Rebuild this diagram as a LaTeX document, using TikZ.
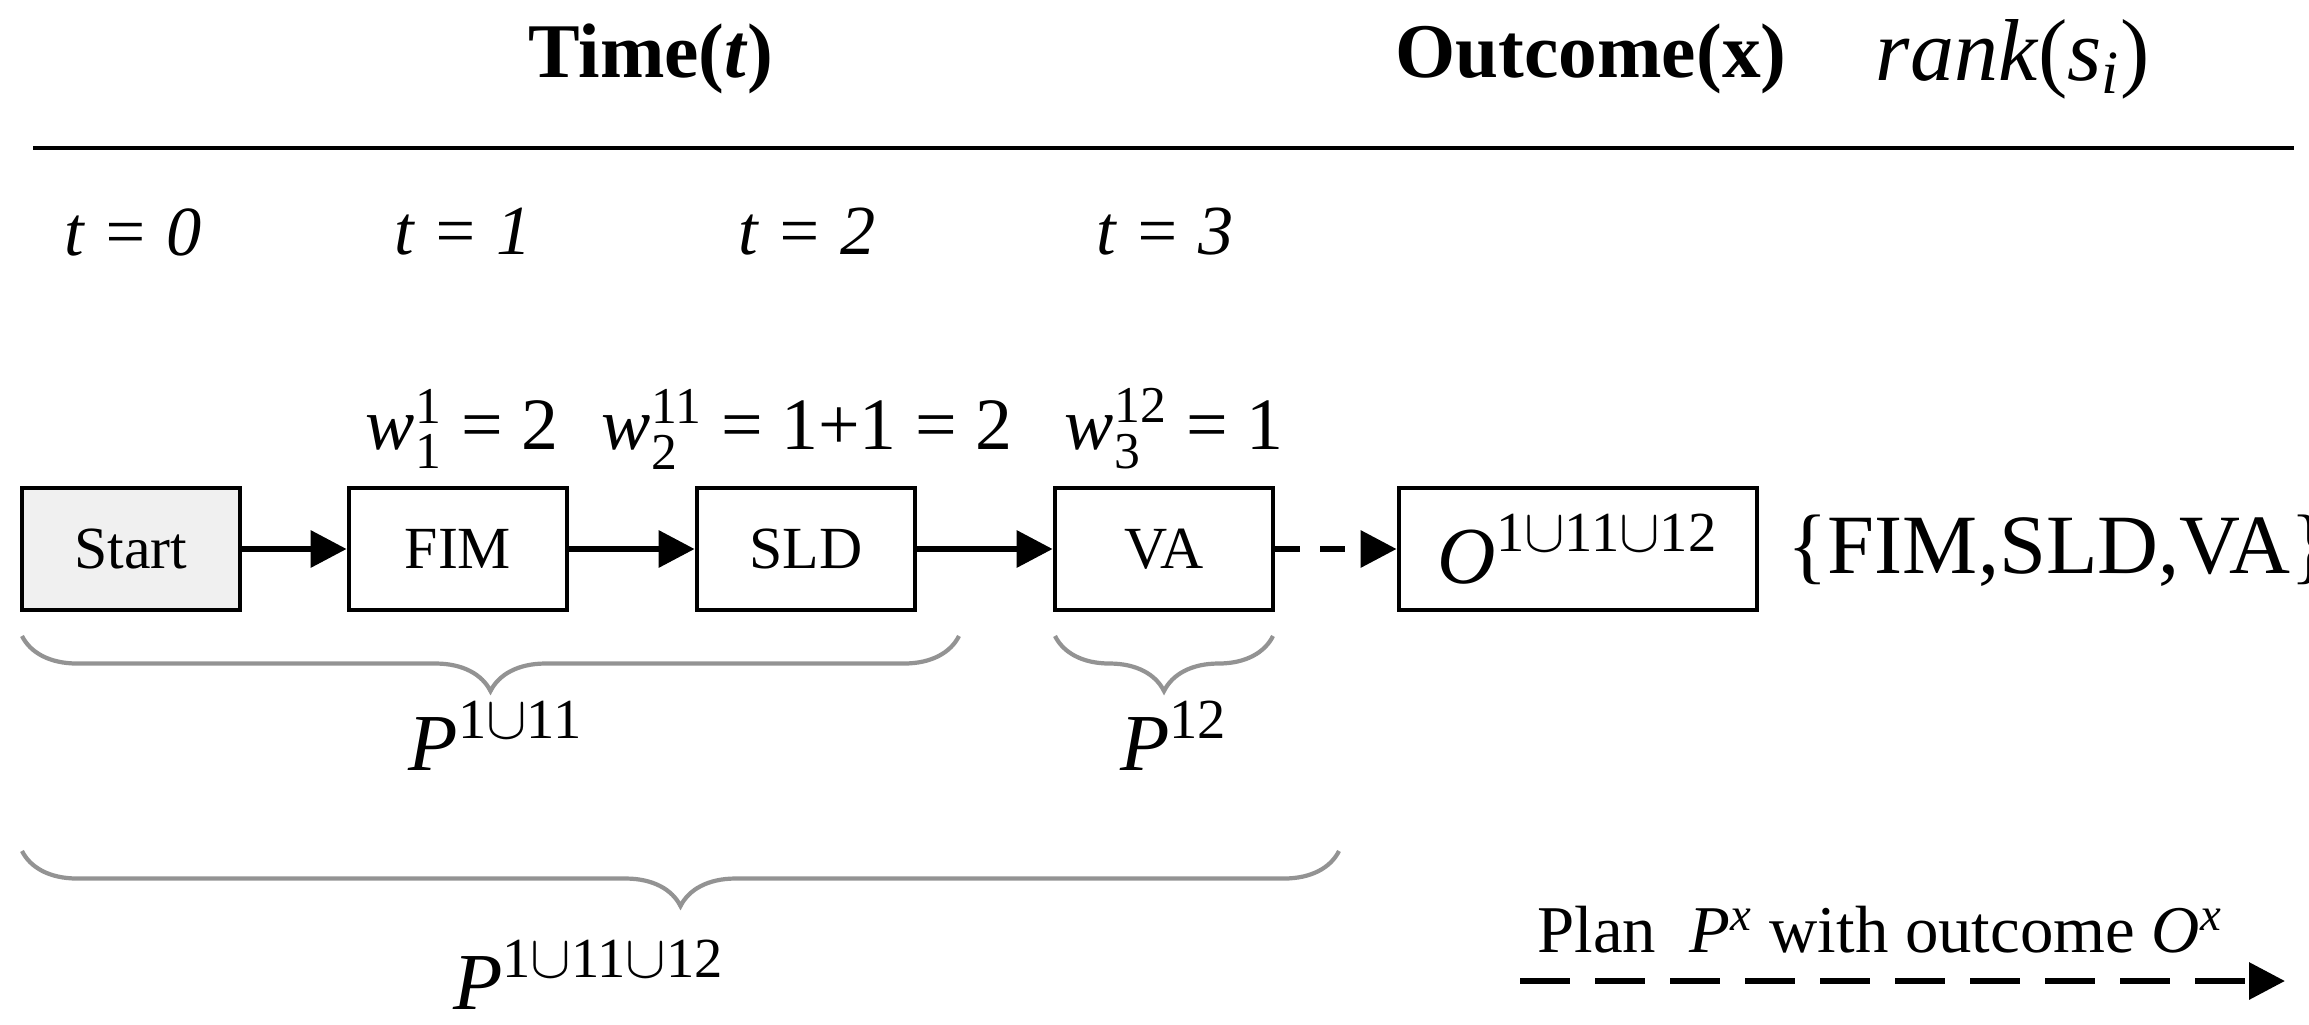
\documentclass[tikz,border=0pt]{standalone}
\usepackage{amsmath}
\usepackage{fontspec}
\setmainfont{Liberation Serif}
\usetikzlibrary{arrows.meta,decorations.pathreplacing}
\newcommand{\mysu}[2]{$^{\text{#1}}_{\text{#2}}$}
\newcommand{\mysp}[1]{$^{\text{#1}}$}
\begin{document}
\begin{tikzpicture}[x=0.01cm,y=-0.01cm,
  box/.style={draw,line width=1.3pt,minimum height=1.22cm,inner sep=0pt,font=\fontsize{17}{20}\selectfont},
  arr/.style={line width=1.8pt,-{Triangle[length=0.36cm,width=0.36cm]}},
  br/.style={draw=gray!85,line width=1.2pt,decorate,decoration={brace,mirror,amplitude=0.55cm}},
  lab/.style={font=\fontsize{21}{25}\selectfont},
  tl/.style={font=\fontsize{20}{24}\selectfont\itshape}]
\useasboundingbox (0,0) rectangle (2309,1024);
\node[font=\fontsize{22}{26}\selectfont\bfseries] (ht) at (651,59) {Time(\textit{t})};
\node[font=\fontsize{22}{26}\selectfont\bfseries] (ho) at (1591,59) {Outcome(x)};
\node[font=\fontsize{25}{28}\selectfont] (hr) at (2013,59) {\textit{rank}(\textit{s}\textsubscript{\textit{i}})};
\coordinate (l1) at (33,148); \coordinate (l2) at (2294,148);
\draw[line width=1.4pt] (l1) -- (l2);
\node[tl] (t0) at (133,232) {t = 0};
\node[tl] (t1) at (463,232) {t = 1};
\node[tl] (t2) at (807,232) {t = 2};
\node[tl] (t3) at (1165,232) {t = 3};
\node[lab] (w1) at (462,429) {\textit{w}\mysu{1}{1} = 2};
\node[lab] (w2) at (807,429) {\textit{w}\mysu{11}{2} = 1+1 = 2};
\node[lab] (w3) at (1174,429) {\textit{w}\mysu{12}{3} = 1};
\node[box,fill=gray!12,minimum width=2.18cm] (s) at (131,549) {Start};
\node[box,minimum width=2.18cm] (f) at (458,549) {FIM};
\node[box,minimum width=2.18cm] (d) at (806,549) {SLD};
\node[box,minimum width=2.18cm] (v) at (1164,549) {VA};
\node[box,minimum width=3.58cm,font=\fontsize{23}{26}\selectfont] (o) at (1578,549) {\textit{O}\mysp{1$\cup$11$\cup$12}};
\node[font=\fontsize{24}{28}\selectfont,anchor=west] (set) at (1775,551) {\{FIM,SLD,VA\}};
\draw[arr] (s) -- (f);
\draw[arr] (f) -- (d);
\draw[arr] (d) -- (v);
\draw[arr,dash pattern=on 0.25cm off 0.2cm] (v) -- (o);
\coordinate (a1) at (22,636); \coordinate (a2) at (959,636);
\coordinate (b1) at (1055,636); \coordinate (b2) at (1273,636);
\coordinate (c1) at (22,851); \coordinate (c2) at (1339,851);
\draw[br] (a1) -- (a2);
\draw[br] (b1) -- (b2);
\draw[br] (c1) -- (c2);
\node[font=\fontsize{23}{26}\selectfont] (p1) at (496,736) {\textit{P}\mysp{1$\cup$11}};
\node[font=\fontsize{23}{26}\selectfont] (p2) at (1174,736) {\textit{P}\mysp{12}};
\node[font=\fontsize{23}{26}\selectfont] (p3) at (589,975) {\textit{P}\mysp{1$\cup$11$\cup$12}};
\node[font=\fontsize{19}{23}\selectfont] (leg) at (1880,930) {Plan \ \textit{P}\mysp{\textit{x}} with outcome \textit{O}\mysp{\textit{x}}};
\coordinate (d1) at (1520,981); \coordinate (d2) at (2285,981);
\draw[arr,dash pattern=on 0.5cm off 0.25cm] (d1) -- (d2);
\end{tikzpicture}
\end{document}
